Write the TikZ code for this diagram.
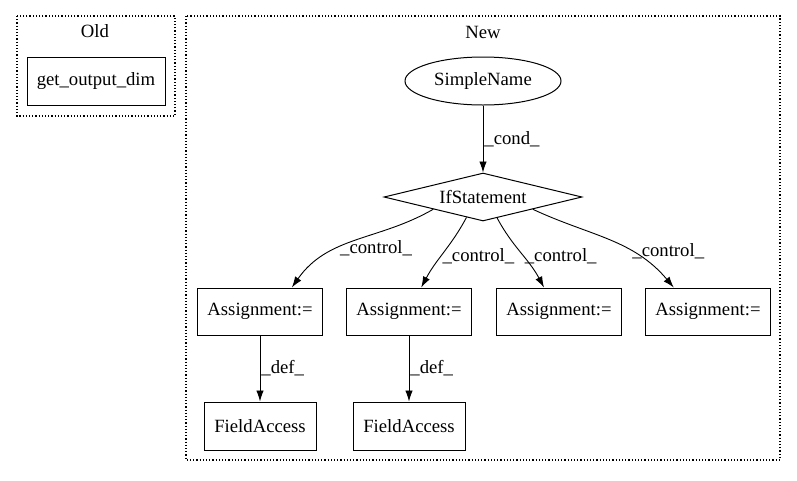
\documentclass[tikz,border=0pt]{standalone}
\usepackage{fontspec}
\setmainfont{Liberation Serif}
\usetikzlibrary{shapes.geometric, arrows.meta}
\tikzset{every picture/.style={line width=1pt}}

\begin{document}
\begin{tikzpicture}
    [x=1pt, y=-1pt,
    font=\fontsize{18.7}{22}\selectfont,
    box/.style = {rectangle, draw, minimum height=47pt, inner sep=0pt},
    cluster/.style = {draw, dotted, line width=1.2pt},
    edge/.style = {-{Latex[length=11pt, width=7.5pt]}, line width=0.9pt},
    lbl/.style = {right, inner sep=1pt},
    ]

\useasboundingbox (0,0) rectangle (797,480);

% clusters
\draw[cluster] (17,16) rectangle (175,116);
\draw[cluster] (186,16) rectangle (780,460);
\node (old) at (95,31) {Old};
\node (new) at (483,32) {New};

\node[box, minimum width=138pt, minimum height=48pt] (g) at (96,81) {get\_output\_dim};

\node[ellipse, draw, minimum width=156pt, minimum height=48pt, inner sep=0pt] (sn) at (483,81) {SimpleName};
\node[diamond, draw, aspect=4, minimum width=198pt, minimum height=48pt, inner sep=0pt] (if) at (483,197) {IfStatement};

\node[box, minimum width=125pt] (a1) at (260,311.5) {Assignment:=};
\node[box, minimum width=125pt] (a2) at (409,311.5) {Assignment:=};
\node[box, minimum width=125pt] (a3) at (559,311.5) {Assignment:=};
\node[box, minimum width=125pt] (a4) at (708,311.5) {Assignment:=};

\node[box, minimum width=112pt, minimum height=48pt] (f1) at (260,426) {FieldAccess};
\node[box, minimum width=112pt, minimum height=48pt] (f2) at (409,426) {FieldAccess};

\draw[edge] (sn) -- node[lbl] {\_cond\_} (if);
\draw[edge] (if.south west) to[out=-150, in=55] node[lbl, pos=0.62] {\_control\_} (a1.37);
\draw[edge] (if.-129) to[out=-118, in=62] node[lbl, pos=0.56] {\_control\_} (a2.63);
\draw[edge] (if.-56) to[out=-62, in=118] node[lbl, pos=0.56] {\_control\_} (a3.122);
\draw[edge] (if.south east) to[out=-25, in=130] node[lbl, pos=0.66] {\_control\_} (a4.145);
\draw[edge] (a1) -- node[lbl] {\_def\_} (f1);
\draw[edge] (a2) -- node[lbl] {\_def\_} (f2);

\end{tikzpicture}
\end{document}
